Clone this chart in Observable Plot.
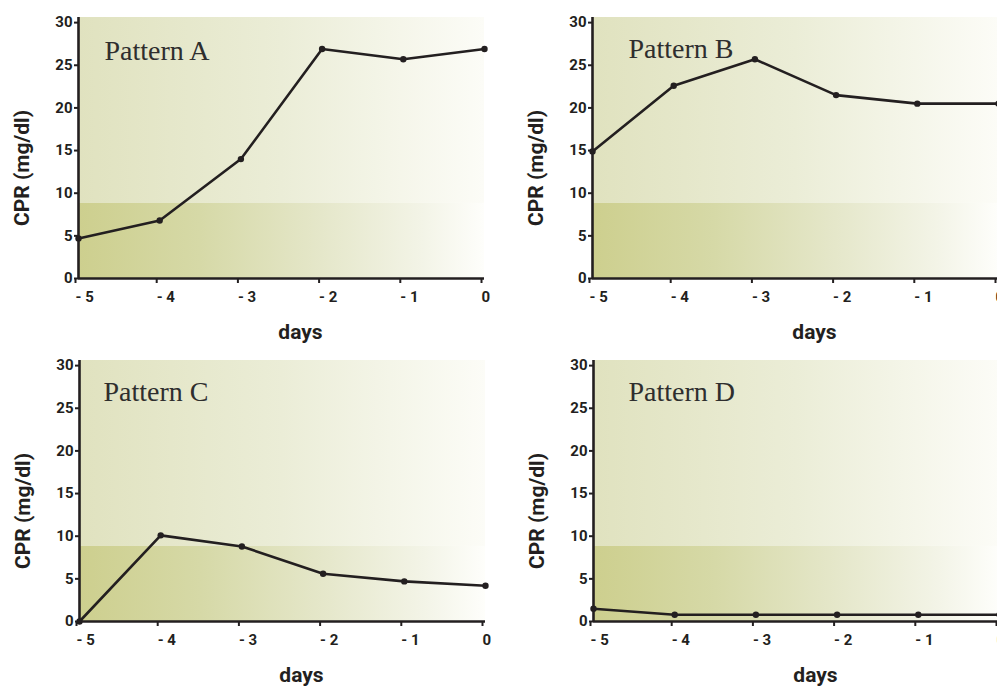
<!DOCTYPE html>
<html><head><meta charset="utf-8">
<script src="https://cdn.jsdelivr.net/npm/d3@7"></script>
<script src="https://cdn.jsdelivr.net/npm/@observablehq/plot@0.6"></script>
<style>
html,body{margin:0;padding:0;background:#fff;overflow:hidden}
#wrap{position:relative;width:997px;height:688px;overflow:hidden;background:#fff}
.panel{position:absolute}
</style></head>
<body>
<svg width="0" height="0" style="position:absolute">
<defs>
<linearGradient id="gLow" x1="0" x2="1" y1="0" y2="0">
 <stop offset="0" stop-color="#cdcf8e"/>
 <stop offset="0.3" stop-color="#d6d9a7"/>
 <stop offset="0.6" stop-color="#e5e7ca"/>
 <stop offset="0.85" stop-color="#f3f4e7"/>
 <stop offset="1" stop-color="#fefefb"/>
</linearGradient>
<linearGradient id="gHigh" x1="0" x2="1" y1="0" y2="0">
 <stop offset="0" stop-color="#e0e2bf"/>
 <stop offset="0.5" stop-color="#ebedd7"/>
 <stop offset="1" stop-color="#fcfcf7"/>
</linearGradient>
</defs></svg>
<div id="wrap"></div>
<script>
const days = [-5, -4, -3, -2, -1, 0];
const xTickLabels = ["- 5", "- 4", "- 3", "- 2", "- 1", "0"];
const yTicks = [0, 5, 10, 15, 20, 25, 30];
const patternNames = ["Pattern A", "Pattern B", "Pattern C", "Pattern D"];
const patternA = [4.7, 6.8, 14.0, 26.9, 25.7, 26.9];
const patternB = [14.9, 22.6, 25.7, 21.5, 20.5, 20.5];
const patternC = [0.0, 10.1, 8.8, 5.6, 4.7, 4.2];
const patternD = [1.5, 0.8, 0.8, 0.8, 0.8, 0.8];
const normalLimit = 8.8;
const yMax = 30.6;
const yLabel = "CPR (mg/dl)";
const xLabel = "days";

const ink = "#231f20";

function panel(name, values, pos) {
  const data = days.map((d, i) => ({day: d, cpr: values[i]}));
  const chart = Plot.plot({
    width: 500,
    height: 343,
    marginLeft: 78,
    marginRight: 16,
    marginTop: 17,
    marginBottom: 65,
    x: {domain: [days[0], days[days.length - 1]]},
    y: {domain: [0, yMax]},
    style: {fontFamily: "Roboto, sans-serif", fontSize: "15px", fontWeight: "bold", color: ink, background: "transparent", overflow: "visible"},
    marks: [
      Plot.rect([0], {x1: days[0], x2: days[days.length - 1], y1: normalLimit, y2: yMax, fill: "url(#gHigh)"}),
      Plot.rect([0], {x1: days[0], x2: days[days.length - 1], y1: 0, y2: normalLimit, fill: "url(#gLow)"}),
      Plot.line(data, {x: "day", y: "cpr", stroke: ink, strokeWidth: 2.6}),
      Plot.dot(data, {x: "day", y: "cpr", r: 3.2, fill: ink, stroke: null}),
      Plot.ruleX([days[0]], {stroke: ink, strokeWidth: 2.6}),
      Plot.ruleY([0], {stroke: ink, strokeWidth: 2.6}),
      Plot.axisY({ticks: yTicks, tickSize: 4, tickPadding: 2, strokeWidth: 2, label: null, fontSize: 15}),
      Plot.axisX({ticks: days, tickFormat: d => xTickLabels[days.indexOf(d)], tickSize: 5, tickPadding: 8, strokeWidth: 2, textAnchor: "start", dx: -3, label: null, fontSize: 15}),
      Plot.text([name], {text: d => d, frameAnchor: "top-left", textAnchor: "start", lineAnchor: "middle", dx: pos.ldx, dy: pos.ldy, fontFamily: "'Liberation Serif', serif", fontSize: 28, fontWeight: "normal", fill: "#2e2e2e"}),
      Plot.text([yLabel], {text: d => d, frameAnchor: "left", textAnchor: "middle", lineAnchor: "middle", rotate: -90, dx: -56, dy: 20, fontSize: 21, fontWeight: "bold", fill: ink}),
      Plot.text([xLabel], {text: d => d, frameAnchor: "bottom", textAnchor: "middle", lineAnchor: "middle", dx: 19, dy: 54, fontSize: 21, fontWeight: "bold", fill: ink})
    ]
  });
  chart.classList.add("panel");
  chart.style.left = pos.left + "px";
  chart.style.top = pos.top + "px";
  document.getElementById("wrap").appendChild(chart);
}

panel(patternNames[0], patternA, {left: 0, top: 0, ldx: 26, ldy: 34});
panel(patternNames[1], patternB, {left: 514, top: 0, ldx: 36, ldy: 32});
panel(patternNames[2], patternC, {left: 1, top: 343, ldx: 24, ldy: 32});
panel(patternNames[3], patternD, {left: 515, top: 343, ldx: 35, ldy: 32});
</script>
</body></html>
